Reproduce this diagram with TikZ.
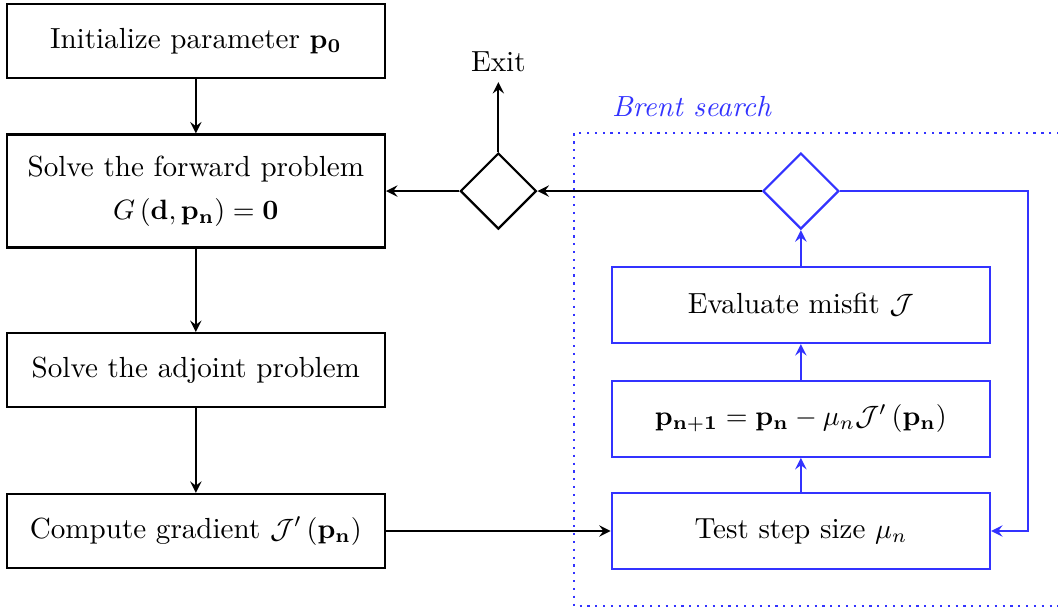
\documentclass[tikz,border=0pt]{standalone}
\usepackage{amsmath}
\usetikzlibrary{shapes.geometric}

\tikzset{
  every node/.style={font=\fontsize{10.4}{12.5}\selectfont},
  stepbox/.style={draw,thick,rectangle,minimum width=4.75cm,minimum height=0.93cm,align=center},
  brentbox/.style={stepbox,draw=blue!80,minimum height=0.955cm},
  choice/.style={draw,thick,diamond,minimum size=0.955cm,inner sep=0pt},
  flow/.style={thick,-stealth},
}

\begin{document}
\begin{tikzpicture}

  \pgfmathsetmacro\lx{2.46}    % left column
  \pgfmathsetmacro\rx{10.06}   % brent column
  \pgfmathsetmacro\dx{6.26}    % exit test

  \useasboundingbox (0,0) rectangle (13.29,-7.676);

% main loop
  \node[stepbox] (init) at (\lx,-0.515) {Initialize parameter $\mathbf{p_0}$};
  \node[stepbox,minimum height=1.42cm] (forward) at (\lx,-2.40)
        {Solve the forward problem\\[3pt] $G\left(\mathbf{d},\mathbf{p_n}\right)=\mathbf{0}$};
  \node[stepbox] (adjoint) at (\lx,-4.65) {Solve the adjoint problem};
  \node[stepbox] (gradient) at (\lx,-6.67) {Compute gradient $\mathcal{J}'\left(\mathbf{p_n}\right)$};

  \node[choice] (stop) at (\dx,-2.40) {};
  \node (exit) at (\dx,-0.78) {Exit};

% Brent search
  \node[blue!80] (brent) at (8.69,-1.34) {\textit{Brent search}};
  \draw[blue!80,thick,dotted] (13.6,-1.67) -- (7.21,-1.67) -- (7.21,-7.61) -- (13.6,-7.61);

  \node[brentbox] (test) at (\rx,-6.67) {Test step size $\mu_n$};
  \node[brentbox] (update) at (\rx,-5.26)
        {$\mathbf{p_{n+1}}=\mathbf{p_n}-\mu_n\mathcal{J}'\left(\mathbf{p_n}\right)$};
  \node[brentbox] (misfit) at (\rx,-3.83) {Evaluate misfit $\mathcal{J}$};
  \node[choice,draw=blue!80] (conv) at (\rx,-2.40) {};
  \coordinate (turn) at (12.91,-2.40);

% connectors
  \draw[flow] (init) -- (forward);
  \draw[flow] (forward) -- (adjoint);
  \draw[flow] (adjoint) -- (gradient);
  \draw[flow] (gradient) -- (test);
  \draw[flow,blue!80] (test) -- (update);
  \draw[flow,blue!80] (update) -- (misfit);
  \draw[flow,blue!80] (misfit) -- (conv);
  \draw[flow,blue!80] (conv.east) -- (turn) |- (test.east);
  \draw[flow] (conv) -- (stop);
  \draw[flow] (stop) -- (forward);
  \draw[flow] (stop) -- (exit);

\end{tikzpicture}
\end{document}
